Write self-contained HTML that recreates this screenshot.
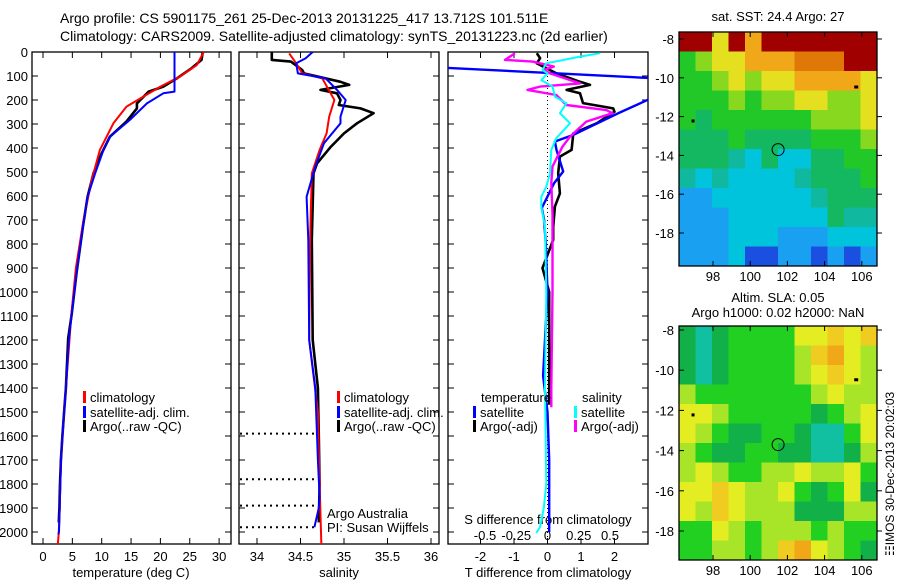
<!DOCTYPE html>
<html><head><meta charset="utf-8">
<style>
html,body{margin:0;padding:0;background:#fff;}
svg{display:block;font-family:"Liberation Sans",sans-serif;}
text{font-size:13px;fill:#000;}
</style></head>
<body>
<svg id="fig" width="900" height="580" viewBox="0 0 900 580">
<text x="60" y="23" style="font-size:14px">Argo profile: CS 5901175_261 25-Dec-2013 20131225_417 13.712S 101.511E</text>
<text x="60" y="41" style="font-size:14px">Climatology: CARS2009. Satellite-adjusted climatology: synTS_20131223.nc (2d earlier)</text>
</svg>
<script>
// ---------- data ----------
const depthTicks=[0,100,200,300,400,500,600,700,800,900,1000,1100,1200,1300,1400,1500,1600,1700,1800,1900,2000];
const tempTicks=[0,5,10,15,20,25,30];
const salTicks=[34,34.5,35,35.5,36];
const tdiffTicks=[-2,-1,0,1,2];
const sdiffTicks=[-0.5,-0.25,0,0.25,0.5];
const sdiffTickLabels=["-0.5","-0.25","0","0.25","0.5"];

// temperature profiles [depth, value]
const tempClim=[[0,27.4],[54,26.2],[103,23.3],[144,20],[186,17.1],[228,14.2],[297,12],[408,9.7],[533,8.3],[700,6.9],[900,5.6],[1100,4.8],[1300,4.2],[1400,3.9],[1500,3.6],[1600,3.3],[1700,3.07],[1800,2.95],[1900,2.84],[2000,2.7],[2060,2.5]];
const tempSat=[[0,22.4],[165,22.4],[172,20.5],[214,17.7],[283,14.8],[353,11.4],[408,10.3],[505,8.9],[603,7.6],[728,6.8],[922,5.7],[1089,4.9],[1200,4.4],[1400,3.9],[1500,3.6],[1600,3.3],[1700,3.07],[1800,2.95],[1900,2.84],[2000,2.73],[2010,2.6]];
const tempArgo=[[2,27.2],[33,27],[68,25.3],[110,22.8],[144,20.5],[165,18],[214,16],[235,16],[290,14.2],[353,11.4],[422,10],[505,8.6],[603,7.6],[728,6.8],[922,5.7],[1089,4.9],[1193,4.3],[1400,3.9],[1500,3.6],[1600,3.3],[1700,3.05],[1800,2.9],[1900,2.8],[1960,2.7]];
// salinity profiles
const salClim=[[6,34.37],[47,34.45],[89,34.52],[110,34.75],[200,34.89],[269,34.83],[339,34.8],[408,34.72],[506,34.63],[783,34.61],[1200,34.6],[1500,34.7],[1800,34.72],[2060,34.74]];
const salSat=[[0,34.64],[26,34.56],[47,34.45],[89,34.47],[110,34.79],[158,34.92],[200,35.02],[269,34.96],[297,34.96],[380,34.77],[478,34.67],[603,34.57],[783,34.59],[1200,34.6],[1400,34.67],[1700,34.7],[1850,34.72],[1900,34.71],[1980,34.66]];
const salArgo=[[0,34.17],[33,34.17],[40,34.39],[75,34.52],[89,34.54],[124,34.96],[137,35.06],[158,34.73],[172,34.92],[200,34.96],[221,34.94],[235,35.19],[255,35.34],[297,35.15],[339,35.0],[394,34.85],[464,34.69],[506,34.65],[783,34.63],[1200,34.64],[1400,34.7],[1600,34.71],[1800,34.72],[1960,34.71]];
// difference profiles
const dTSat=[[45,-6],[115,4],[180,3.3],[256,2.1],[346,0.76],[373,0.22],[408,0.27],[498,0.47],[546,0.2],[650,-0.17],[700,-0.1],[800,-0.05],[1000,0],[1350,-0.13],[1500,0],[1700,0.05],[1900,0.05],[2000,0.05]];
const dTArgo=[[5,-0.32],[26,-0.22],[47,-0.32],[89,0.27],[124,0.97],[137,1.27],[158,0.57],[172,0.97],[213,1.06],[235,1.96],[249,2.0],[297,1.47],[339,0.77],[408,0.72],[436,0.37],[506,0.32],[589,0.37],[644,0.22],[728,0.17],[783,0.17],[900,-0.15],[1000,0.05],[1200,0.05],[1400,0.05],[1470,0.05]];
const dSSat=[[5,0.42],[19,0.26],[47,-0.01],[75,-0.04],[89,0],[117,-0.05],[144,0.04],[186,0.06],[214,0.15],[255,0.1],[297,0.18],[359,0.07],[408,0.03],[506,0.02],[561,-0.01],[603,-0.05],[644,-0.05],[728,-0.02],[1000,-0.01],[1400,-0.02],[1800,-0.01],[1900,-0.03],[1979,-0.06],[2004,-0.09]];
const dSArgo=[[5,-0.26],[33,-0.34],[40,-0.12],[61,0.05],[75,-0.03],[89,0.02],[131,0.26],[144,-0.06],[158,-0.16],[179,0.07],[221,0.15],[242,0.47],[255,0.52],[290,0.31],[353,0.18],[394,0.12],[477,0.04],[546,0.03],[672,0.04],[1000,0.04],[1400,0.03],[1480,0.03]];
const qcDepths=[1590,1780,1890,1980];

// map data (colour level indices)
const sstGrid=[
[11,11,8,11,9,11,11,11,11,11,11,11],
[6,7,8,8,9,9,9,10,10,10,11,11],
[6,6,7,8,7,8,8,9,9,9,9,8],
[6,6,6,7,6,7,7,8,8,7,7,8],
[6,5,6,6,6,6,6,6,7,7,7,8],
[5,5,5,6,5,5,5,5,6,6,6,7],
[5,5,5,4,3,5,3,3,5,5,6,6],
[4,3,4,3,3,3,3,4,5,5,5,6],
[2,2,3,3,3,3,3,3,4,5,5,5],
[2,2,2,3,3,3,3,3,3,5,4,4],
[2,2,2,3,3,3,2,2,2,3,3,3],
[2,2,2,3,1,1,2,2,1,2,1,2]];
const slaGrid=[
[5,4,5,6,6,6,6,8,8,9,8,9],
[5,4,5,6,6,6,6,7,9,10,8,7],
[5,4,5,6,6,6,6,7,8,9,8,7],
[7,6,6,6,6,6,6,6,7,8,7,7],
[8,8,7,6,6,6,6,6,5,6,7,8],
[8,7,6,5,5,6,6,5,4,4,6,8],
[7,6,5,5,6,6,5,5,4,4,5,7],
[7,8,7,6,6,7,7,8,7,7,8,6],
[8,8,9,8,7,7,8,6,5,6,8,5],
[8,7,9,8,7,7,7,5,5,5,7,7],
[6,6,8,7,6,7,7,7,6,7,6,6],
[6,6,7,7,6,7,9,10,8,7,6,5]];
const latTicks=[-8,-10,-12,-14,-16,-18];
const lonTicks=[98,100,102,104,106];
const argoPos=[101.5,-13.7];

// ---------- helpers ----------
const NS="http://www.w3.org/2000/svg";
const svg=document.getElementById('fig');
function mk(tag,attrs,parent){const e=document.createElementNS(NS,tag);for(const k in attrs)e.setAttribute(k,attrs[k]);(parent||svg).appendChild(e);return e;}
const depthY=d=>52+d*0.24;
const PY0=52,PY1=544;
const panels=[
 {x0:32,x1:231,sx:v=>43+5.87*v,name:'temperature-panel'},
 {x0:239,x1:439,sx:v=>257+87*(v-34),name:'salinity-panel'},
 {x0:448,x1:648,sx:v=>547.5+33.5*v,name:'difference-panel'}
];
const defs=mk('defs',{});
panels.forEach((p,i)=>{
 const cp=mk('clipPath',{id:'cp'+i},defs);
 mk('rect',{x:p.x0,y:PY0,width:p.x1-p.x0,height:PY1-PY0},cp);
});
function line(pts,px,sx,color,w,name,pi){
 const d=pts.map((q,i)=>(i?'L':'M')+px(q[1]).toFixed(1)+','+depthY(q[0]).toFixed(1)).join('');
 const e=mk('path',{d:d,fill:'none',stroke:color,'stroke-width':w,'stroke-linejoin':'round','clip-path':'url(#cp'+pi+')'});
 
 
}
function txt(x,y,s,anchor,name,extra){
 const e=mk('text',Object.assign({x:x,y:y,'text-anchor':anchor||'start'},extra||{}));
 e.textContent=s;
 
 
 return e;
}

// ---------- panels ----------
panels.forEach((p,pi)=>{
 const f=mk('rect',{x:p.x0,y:PY0,width:p.x1-p.x0,height:PY1-PY0,fill:'none',stroke:'#000','stroke-width':1.3});
 
 
 depthTicks.forEach(d=>{
  const y=depthY(d);
  mk('line',{x1:p.x0,x2:p.x0+6,y1:y,y2:y,stroke:'#000'});
  mk('line',{x1:p.x1-6,x2:p.x1,y1:y,y2:y,stroke:'#000'});
 });
});
depthTicks.forEach(d=>{txt(28,depthY(d)+5,String(d),'end','depth-tick-label');});
tempTicks.forEach(t=>{const x=panels[0].sx(t);mk('line',{x1:x,x2:x,y1:PY0,y2:PY0+6,stroke:'#000'});mk('line',{x1:x,x2:x,y1:PY1-6,y2:PY1,stroke:'#000'});txt(x,561,String(t),'middle','temperature-tick-label');});
salTicks.forEach(t=>{const x=panels[1].sx(t);mk('line',{x1:x,x2:x,y1:PY0,y2:PY0+6,stroke:'#000'});mk('line',{x1:x,x2:x,y1:PY1-6,y2:PY1,stroke:'#000'});txt(x,561,String(t),'middle','salinity-tick-label');});
tdiffTicks.forEach(t=>{const x=panels[2].sx(t);mk('line',{x1:x,x2:x,y1:PY0,y2:PY0+6,stroke:'#000'});mk('line',{x1:x,x2:x,y1:PY1-6,y2:PY1,stroke:'#000'});txt(x,561,String(t),'middle','t-difference-tick-label');});
const sdx=v=>547.5+125*v;
sdiffTicks.forEach((t,i)=>{txt(sdx(t),540,sdiffTickLabels[i],'middle','s-difference-tick-label');});
txt(131,577,'temperature (deg C)','middle','temperature-axis-title');
txt(339,577,'salinity','middle','salinity-axis-title');
txt(548,577,'T difference from climatology','middle','t-difference-axis-title');
txt(548,524,'S difference from climatology','middle','s-difference-axis-title');

// zero line in difference panel
const zl=mk('line',{x1:547.5,x2:547.5,y1:PY0,y2:PY1,stroke:'#000','stroke-dasharray':'1,3'});



// qc dotted lines in salinity panel
qcDepths.forEach(d=>{
 const e=mk('line',{x1:240,x2:318,y1:depthY(d),y2:depthY(d),stroke:'#000','stroke-width':2,'stroke-dasharray':'2,4'});
 
 
});

// profiles
const p0=panels[0].sx,p1=panels[1].sx,p2=panels[2].sx;
line(tempArgo,p0,null,'#000',2.6,'temperature-argo-line',0);
line(tempClim,p0,null,'#f00',2,'temperature-climatology-line',0);
line(tempSat,p0,null,'#00f',2,'temperature-satellite-line',0);
line(salArgo,p1,null,'#000',2.6,'salinity-argo-line',1);
line(salClim,p1,null,'#f00',2,'salinity-climatology-line',1);
line(salSat,p1,null,'#00f',2,'salinity-satellite-line',1);
line(dTArgo,p2,null,'#000',2.6,'t-diff-argo-line',2);
line(dTSat,p2,null,'#00f',2.4,'t-diff-satellite-line',2);
line(dSArgo,sdx,null,'#f0f',2.4,'s-diff-argo-line',2);
line(dSSat,sdx,null,'#0ff',2,'s-diff-satellite-line',2);

// legends
function legEntry(x,y,color,label,name){
 const r=mk('rect',{x:x,y:y-11,width:3,height:12,fill:color});
 
 
 txt(x+7,y,label,'start',name);
}
legEntry(83,402,'#f00','climatology','legend-climatology');
legEntry(83,417,'#00f','satellite-adj. clim.','legend-satellite');
legEntry(83,431,'#000','Argo(..raw -QC)','legend-argo');
legEntry(337,402,'#f00','climatology','legend-climatology-2');
legEntry(337,417,'#00f','satellite-adj. clim.','legend-satellite-2');
legEntry(337,431,'#000','Argo(..raw -QC)','legend-argo-2');
txt(481,402,'temperature','start','legend-temperature-header');
txt(582,402,'salinity','start','legend-salinity-header');
legEntry(473,417,'#00f','satellite','legend-t-satellite');
legEntry(473,431,'#000','Argo(-adj)','legend-t-argo');
legEntry(574,417,'#0ff','satellite','legend-s-satellite');
legEntry(574,431,'#f0f','Argo(-adj)','legend-s-argo');
txt(327,518,'Argo Australia','start','argo-australia-note');
txt(327,532,'PI: Susan Wijffels','start','pi-note');

// ---------- maps ----------
const sstPal={1:'#1a4fe0',2:'#1aa0f0',3:'#00c4dc',4:'#10b8a0',5:'#14b860',6:'#22c828',7:'#88d820',8:'#e4e020',9:'#f0a818',10:'#e07808',11:'#a00000'};
const slaPal={4:'#10c0a0',5:'#12b048',6:'#22d022',7:'#a8e428',8:'#e4ec22',9:'#f0cc20',10:'#f0a818'};
function drawMap(grid,pal,y0,latY0,latScale,name){
 const x0=679,w=198,h=234,rows=grid.length,cols=grid[0].length;
 const cw=w/cols,ch=h/rows;
 const g=mk('g',{});
 
 
 grid.forEach((row,r)=>row.forEach((v,c)=>{
  mk('rect',{x:(x0+c*cw).toFixed(2),y:(y0+r*ch).toFixed(2),width:(cw+0.5).toFixed(2),height:(ch+0.5).toFixed(2),fill:pal[v]},g);
 }));
 const lonX=l=>713+(l-98)*18.6;
 const latY=l=>latY0+(-8-l)*latScale;
 mk('rect',{x:x0,y:y0,width:w,height:h,fill:'none',stroke:'#000','stroke-width':1.3});
 latTicks.forEach(l=>{const y=latY(l);mk('line',{x1:x0,x2:x0+5,y1:y,y2:y,stroke:'#000'});mk('line',{x1:x0+w,x2:x0+w+5,y1:y,y2:y,stroke:'#000'});txt(674,y+5,String(l),'end',name+'-lat-label');});
 lonTicks.forEach(l=>{const x=lonX(l);mk('line',{x1:x,x2:x,y1:y0,y2:y0+5,stroke:'#000'});mk('line',{x1:x,x2:x,y1:y0+h-5,y2:y0+h,stroke:'#000'});txt(x,y0+h+15,String(l),'middle',name+'-lon-label');});
 const c=mk('circle',{cx:lonX(argoPos[0]),cy:latY(argoPos[1]),r:6,fill:'none',stroke:'#000','stroke-width':1});
 
 
 mk('rect',{x:lonX(105.7)-2,y:latY(-10.5)-2,width:4,height:3,fill:'#000'});
 mk('rect',{x:lonX(96.9)-1,y:latY(-12.2)-1,width:3,height:3,fill:'#000'});
}
drawMap(sstGrid,sstPal,32,39,19.4,'sst-map');
drawMap(slaGrid,slaPal,326,330,20.1,'sla-map');
txt(778,21,'sat. SST: 24.4  Argo: 27','middle','sst-map-title');
txt(778,302,'Altim. SLA: 0.05','middle','sla-map-title');
txt(778,317,'Argo h1000: 0.02 h2000: NaN','middle','sla-map-subtitle');
txt(0,0,'\u2637IMOS 30-Dec-2013 20:02:03','start','imos-timestamp',{transform:'translate(894,556) rotate(-90)',style:'font-size:12px'});
</script>
</body></html>
